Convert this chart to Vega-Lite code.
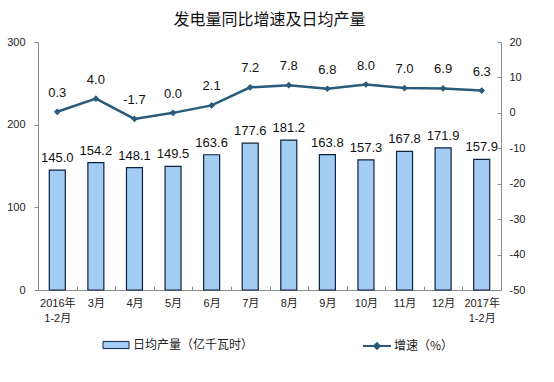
{
  "$schema": "https://vega.github.io/schema/vega-lite/v6.json",
  "width": 463,
  "height": 248,
  "autosize": {"type": "none"},
  "padding": {"left": 38, "top": 42, "right": 53, "bottom": 92},
  "background": "white",
  "config": {
    "locale": {"number": {"decimal": ".", "thousands": ",", "grouping": [3], "currency": ["", ""], "minus": "-"}},
    "view": {"stroke": null},
    "font": "Liberation Sans, Noto Sans CJK SC",
    "axis": {"grid": false, "domainColor": "#8c8c8c", "tickColor": "#8c8c8c", "labelColor": "#222222", "labelFont": "Liberation Sans, Noto Sans CJK SC", "labelFontSize": 11, "title": null}
  },
  "title": {
    "text": "发电量同比增速及日均产量",
    "font": "Noto Sans CJK SC",
    "fontSize": 16,
    "fontWeight": "normal",
    "color": "#111111",
    "anchor": "middle",
    "offset": 8
  },
  "data": {
    "values": [
      {"month": "2016年 1-2月", "prod": 145.0, "rate": 0.3},
      {"month": "3月", "prod": 154.2, "rate": 4.0},
      {"month": "4月", "prod": 148.1, "rate": -1.7},
      {"month": "5月", "prod": 149.5, "rate": 0.0},
      {"month": "6月", "prod": 163.6, "rate": 2.1},
      {"month": "7月", "prod": 177.6, "rate": 7.2},
      {"month": "8月", "prod": 181.2, "rate": 7.8},
      {"month": "9月", "prod": 163.8, "rate": 6.8},
      {"month": "10月", "prod": 157.3, "rate": 8.0},
      {"month": "11月", "prod": 167.8, "rate": 7.0},
      {"month": "12月", "prod": 171.9, "rate": 6.9},
      {"month": "2017年 1-2月", "prod": 157.9, "rate": 6.3}
    ]
  },
  "encoding": {
    "x": {
      "field": "month",
      "type": "nominal",
      "sort": null,
      "scale": {"paddingInner": 0, "paddingOuter": 0},
      "axis": {
        "labelAngle": 0,
        "labelExpr": "split(datum.label, ' ')",
        "labelLineHeight": 15,
        "labelPadding": 11,
        "labelBaseline": "top",
        "tickBand": "extent",
        "tickSize": -4,
        "labelFontSize": 11
      }
    }
  },
  "layer": [
    {
      "encoding": {
        "y": {
          "field": "prod",
          "type": "quantitative",
          "scale": {"domain": [0, 300], "nice": false},
          "axis": {"orient": "left", "values": [0, 100, 200, 300], "tickSize": 4, "labelPadding": 9, "labelFontSize": 11}
        }
      },
      "layer": [
        {
          "mark": {"type": "bar", "width": 16, "stroke": "#0d2142", "strokeWidth": 1.2},
          "encoding": {
            "color": {
              "datum": "日均产量（亿千瓦时）",
              "scale": {"range": ["#a3cdf3"]},
              "legend": {
                "orient": "none",
                "legendX": 71,
                "legendY": 296,
                "title": null,
                "symbolType": "M-2,-0.55H2V0.55H-2Z",
                "symbolSize": 169,
                "symbolStrokeColor": "#0d2142",
                "symbolStrokeWidth": 1,
                "labelFont": "Noto Sans CJK SC",
                "labelFontSize": 12,
                "labelColor": "#222222",
                "labelOffset": 10
              }
            }
          }
        },
        {
          "mark": {"type": "text", "dy": -12, "fontSize": 13, "color": "#111111", "font": "Liberation Sans"},
          "encoding": {"text": {"field": "prod", "type": "quantitative", "format": ".1f"}}
        }
      ]
    },
    {
      "encoding": {
        "y": {
          "field": "rate",
          "type": "quantitative",
          "scale": {"domain": [-50, 20], "nice": false},
          "axis": {"orient": "right", "values": [-50, -40, -30, -20, -10, 0, 10, 20], "tickSize": -4, "labelPadding": 12, "labelFontSize": 11}
        }
      },
      "layer": [
        {
          "mark": {"type": "line", "strokeWidth": 2.5},
          "encoding": {
            "stroke": {
              "datum": "增速（%）",
              "scale": {"range": ["#2a5b7a"]},
              "legend": {
                "orient": "none",
                "legendX": 331,
                "legendY": 296,
                "title": null,
                "symbolType": "M-2,0H-0.4M0.4,0H2M0,-0.4L0.4,0L0,0.4L-0.4,0Z",
                "symbolSize": 196,
                "symbolFillColor": "#2a5b7a",
                "symbolStrokeWidth": 2,
                "labelFont": "Noto Sans CJK SC",
                "labelFontSize": 12,
                "labelColor": "#222222",
                "labelOffset": 9
              }
            }
          }
        },
        {
          "mark": {"type": "point", "shape": "diamond", "filled": true, "size": 45, "color": "#2a5b7a", "opacity": 1}
        },
        {
          "mark": {"type": "text", "dy": -19, "fontSize": 13, "color": "#111111", "font": "Liberation Sans"},
          "encoding": {"text": {"field": "rate", "type": "quantitative", "format": ".1f"}}
        }
      ]
    }
  ],
  "resolve": {"scale": {"y": "independent"}}
}
